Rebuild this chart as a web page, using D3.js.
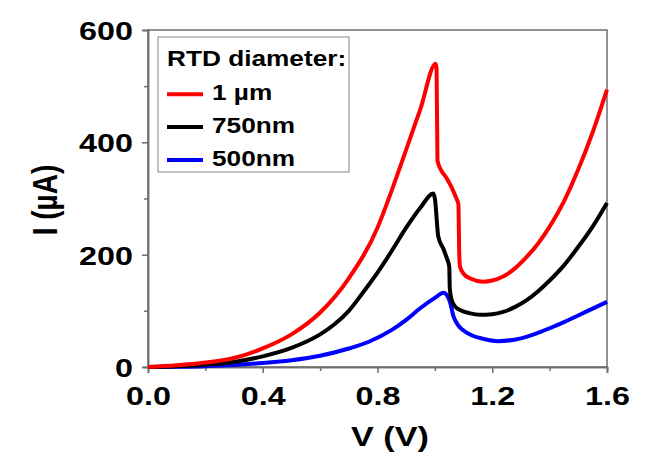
<!DOCTYPE html>
<html>
<head>
<meta charset="utf-8">
<script src="https://cdn.jsdelivr.net/npm/d3@7"></script>
<style>
  body { margin: 0; background: #fff; }
  text { font-family: "Liberation Sans", Arial, sans-serif; font-weight: bold; }
</style>
</head>
<body>
<svg id="bg" width="646" height="457"></svg>
<script>
// V (V) / I (uA)
var red_v = [0, 0.1, 0.2, 0.3, 0.4, 0.5, 0.6, 0.7, 0.8, 0.85, 0.9, 0.95, 1.003, 1.006, 1.009, 1.02, 1.04, 1.06, 1.075, 1.082, 1.085, 1.088, 1.1, 1.122, 1.168, 1.2, 1.238, 1.28, 1.32, 1.36, 1.4, 1.45, 1.5, 1.55, 1.6];
var red_i = [0, 3, 8, 16, 33, 58, 97, 158, 248, 315, 387, 460, 540, 530, 368, 352, 337, 318, 300, 290, 200, 178, 166, 158, 152, 154, 161, 176, 196, 220, 250, 295, 352, 418, 494];

var black_v = [0, 0.1, 0.2, 0.3, 0.4, 0.5, 0.6, 0.65, 0.7, 0.75, 0.8, 0.85, 0.9, 0.95, 0.995, 1.0, 1.012, 1.03, 1.04, 1.05, 1.052, 1.058, 1.07, 1.09, 1.12, 1.157, 1.2, 1.238, 1.28, 1.32, 1.36, 1.4, 1.45, 1.5, 1.55, 1.6];
var black_i = [0, 1.5, 4, 9, 19, 34, 58, 76, 100, 133, 168, 207, 248, 284, 309, 300, 232, 210, 196, 179, 140, 120, 108, 101, 96, 93, 94, 98, 107, 119, 135, 154, 181, 214, 250, 292];

var blue_v = [0, 0.1, 0.2, 0.3, 0.4, 0.5, 0.6, 0.7, 0.77, 0.85, 0.9, 0.95, 1.0, 1.03, 1.04, 1.052, 1.065, 1.08, 1.1, 1.13, 1.17, 1.22, 1.3, 1.35, 1.4, 1.45, 1.505, 1.55, 1.6];
var blue_i = [0, 0.5, 1.5, 3.5, 7, 12, 20, 33, 45, 66, 84, 105, 123, 132, 129, 117, 90, 75, 65, 56, 50, 46, 51, 59, 69, 80, 93, 104, 116];

var series = [
  {name: '1 \u00b5m', color: '#ff0000', v: red_v, i: red_i},
  {name: '750nm', color: '#000000', v: black_v, i: black_i},
  {name: '500nm', color: '#0000ff', v: blue_v, i: blue_i}
];

var xTicks = [0, 0.4, 0.8, 1.2, 1.6];
var xMinor = [0.2, 0.6, 1.0, 1.4];
var yTicks = [0, 200, 400, 600];
var yMinor = [100, 300, 500];

var xScale = d3.scaleLinear().domain([0, 1.6]).range([148, 607]);
var yScale = d3.scaleLinear().domain([0, 600]).range([367, 30]);

var stretch = 1.22; // the source text is drawn wide
var svg = d3.select('#bg');
var axisColor = '#6e6e6e';

// frame
svg.append('rect')
  .attr('x', xScale(0)).attr('y', yScale(600))
  .attr('width', xScale(1.6) - xScale(0))
  .attr('height', yScale(0) - yScale(600))
  .attr('fill', 'none')
  .attr('stroke', axisColor)
  .attr('stroke-width', 1.5);

// axes
var xAxis = svg.append('g')
  .attr('transform', 'translate(0,' + yScale(0) + ')')
  .call(d3.axisBottom(xScale).tickValues(xTicks).tickFormat(d3.format('.1f')).tickSize(6));
svg.append('g')
  .attr('transform', 'translate(0,' + yScale(0) + ')')
  .call(d3.axisBottom(xScale).tickValues(xMinor).tickFormat('').tickSize(4));

var yAxis = svg.append('g')
  .attr('transform', 'translate(' + xScale(0) + ',0)')
  .call(d3.axisLeft(yScale).tickValues(yTicks).tickSize(6));
svg.append('g')
  .attr('transform', 'translate(' + xScale(0) + ',0)')
  .call(d3.axisLeft(yScale).tickValues(yMinor).tickFormat('').tickSize(4));

svg.selectAll('.domain').attr('stroke', axisColor).attr('stroke-width', 1.5);
svg.selectAll('.tick line').attr('stroke', axisColor).attr('stroke-width', 1.5);
svg.selectAll('.tick text')
  .attr('font-size', 26.5)
  .attr('font-family', '"Liberation Sans", Arial, sans-serif')
  .attr('font-weight', 'bold')
  .attr('fill', '#000');
xAxis.selectAll('.tick text')
  .attr('y', 0).attr('dy', 0)
  .attr('transform', 'translate(0,38) scale(' + stretch + ',1)');
yAxis.selectAll('.tick text')
  .attr('x', 0).attr('dy', '0.36em')
  .attr('transform', 'translate(-15,0) scale(' + stretch + ',1)');

// axis titles
svg.append('text')
  .attr('transform', 'translate(390,446) scale(' + stretch + ',1)')
  .attr('text-anchor', 'middle')
  .attr('font-size', 28)
  .text('V (V)');

svg.append('text')
  .attr('transform', 'translate(57,200) rotate(-90) scale(1,' + stretch + ')')
  .attr('text-anchor', 'middle')
  .attr('font-size', 28)
  .text('I (\u00b5A)');

// curves
var line = d3.line()
  .curve(d3.curveMonotoneX)
  .x(function(d) { return xScale(d[0]); })
  .y(function(d) { return yScale(d[1]); });

series.slice().reverse().forEach(function(s) {
  var pts = s.v.map(function(v, k) { return [v, s.i[k]]; });
  svg.append('path')
    .datum(pts)
    .attr('fill', 'none')
    .attr('stroke', s.color)
    .attr('stroke-width', 4)
    .attr('stroke-linejoin', 'round')
    .attr('d', line);
});

// legend
var leg = svg.append('g');
leg.append('rect')
  .attr('x', 158).attr('y', 37)
  .attr('width', 191).attr('height', 135)
  .attr('fill', '#fff')
  .attr('stroke', '#9a9a9a')
  .attr('stroke-width', 1.2);
leg.append('text')
  .attr('transform', 'translate(167,66) scale(' + stretch + ',1)')
  .attr('font-size', 21.5)
  .text('RTD diameter:');

series.forEach(function(s, k) {
  var y = 94.3 + k * 32.8;
  leg.append('line')
    .attr('x1', 167).attr('x2', 203)
    .attr('y1', y).attr('y2', y)
    .attr('stroke', s.color)
    .attr('stroke-width', 4);
  leg.append('text')
    .attr('transform', 'translate(212,' + (y + 6) + ') scale(' + stretch + ',1)')
    .attr('font-size', 21.5)
    .text(s.name);
});
</script>
</body>
</html>
